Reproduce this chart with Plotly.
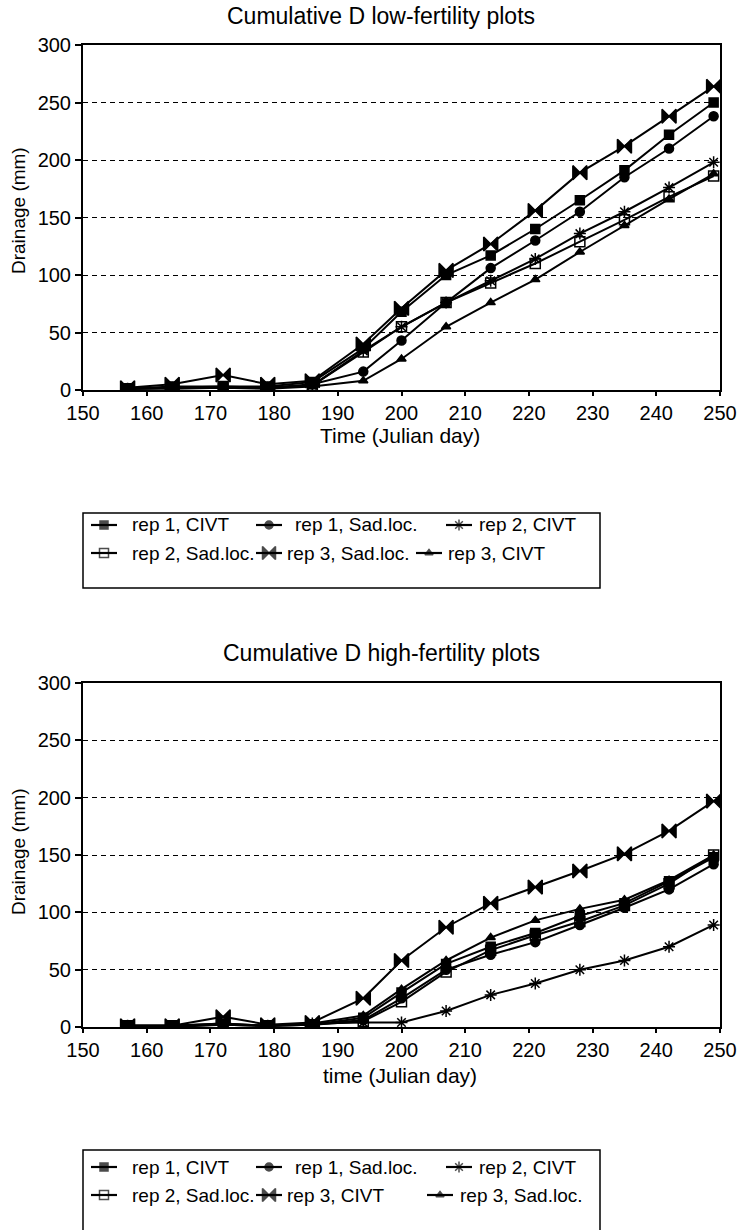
import plotly.graph_objects as go

# ---------------- data ----------------
days = [157, 164, 172, 179, 186, 194, 200, 207, 214, 221, 228, 235, 242, 249]

# Low-fertility plots
low_rep1_civt = [1, 3, 3, 3, 7, 36, 68, 100, 117, 140, 165, 191, 222, 250]
low_rep1_sad = [1, 2, 2, 2, 5, 16, 43, 76, 106, 130, 155, 185, 210, 238]
low_rep2_civt = [1, 2, 2, 2, 4, 34, 55, 76, 95, 114, 136, 155, 176, 198]
low_rep2_sad = [1, 2, 3, 2, 4, 33, 55, 76, 93, 110, 129, 148, 168, 186]
low_rep3_sad = [2, 5, 13, 5, 8, 40, 71, 104, 127, 156, 189, 212, 238, 264]
low_rep3_civt = [1, 1, 2, 1, 3, 8, 27, 55, 76, 96, 120, 143, 166, 188]

# High-fertility plots
high_rep1_civt = [1, 1, 3, 1, 2, 8, 30, 55, 70, 82, 97, 108, 127, 148]
high_rep1_sad = [1, 1, 2, 1, 2, 6, 25, 50, 63, 74, 89, 104, 120, 142]
high_rep2_civt = [1, 0, 2, 1, 3, 4, 4, 14, 28, 38, 50, 58, 70, 89]
high_rep2_sad = [1, 1, 2, 1, 2, 5, 22, 48, 67, 80, 92, 106, 125, 150]
high_rep3_civt = [1, 1, 9, 2, 4, 25, 58, 87, 108, 122, 136, 151, 171, 197]
high_rep3_sad = [1, 1, 3, 1, 3, 10, 33, 58, 78, 93, 103, 111, 128, 150]

low_names = ["rep 1, CIVT", "rep 1, Sad.loc.", "rep 2, CIVT",
             "rep 2, Sad.loc.", "rep 3, Sad.loc.", "rep 3, CIVT"]
high_names = ["rep 1, CIVT", "rep 1, Sad.loc.", "rep 2, CIVT",
              "rep 2, Sad.loc.", "rep 3, CIVT", "rep 3, Sad.loc."]

y_ticks = [0, 50, 100, 150, 200, 250, 300]
x_ticks = [150, 160, 170, 180, 190, 200, 210, 220, 230, 240, 250]

# ---------------- styles ----------------
FONT = "Liberation Sans, Arial, sans-serif"
W, H = 739, 1230

styles = {
    "rep1_civt": dict(symbol="square", size=9),
    "rep1_sad": dict(symbol="circle", size=9),
    "rep2_civt": dict(symbol="asterisk-open", size=10),
    "rep2_sad": dict(symbol="square-open", size=10),
    "rep3_bow": dict(symbol="bowtie", size=14),
    "rep3_tri": dict(symbol="triangle-up", size=8),
}
low_styles = ["rep1_civt", "rep1_sad", "rep2_civt", "rep2_sad", "rep3_bow", "rep3_tri"]
high_styles = ["rep1_civt", "rep1_sad", "rep2_civt", "rep2_sad", "rep3_bow", "rep3_tri"]

fig = go.Figure()


def marker_of(style, size=None):
    st = styles[style]
    return dict(symbol=st["symbol"], size=st["size"] if size is None else size,
                color="black", line=dict(color="black", width=1.5))


def add(x, y, name, style, xa, ya):
    fig.add_trace(go.Scatter(
        x=x, y=y, name=name, mode="lines+markers",
        line=dict(color="black", width=2),
        marker=marker_of(style),
        xaxis=xa, yaxis=ya, showlegend=False,
    ))


low_series = [low_rep1_civt, low_rep1_sad, low_rep2_civt, low_rep2_sad, low_rep3_sad, low_rep3_civt]
high_series = [high_rep1_civt, high_rep1_sad, high_rep2_civt, high_rep2_sad, high_rep3_civt, high_rep3_sad]

for vals, name, st in zip(low_series, low_names, low_styles):
    add(days, vals, name, st, "x", "y")
for vals, name, st in zip(high_series, high_names, high_styles):
    add(days, vals, name, st, "x2", "y2")


def py(y):
    return 1 - y / H


def px_(x):
    return x / W


# ---------------- hand-made legend boxes (pixel layout on an overlay axis) ----------------
# (sample centre x, text x, row index) for each of the 6 entries
legend_low_layout = [(104, 130, 0), (269, 293, 0), (459, 477, 0),
                     (104, 130, 1), (269, 285, 1), (429, 446, 1)]
legend_high_layout = [(104, 130, 0), (269, 293, 0), (459, 477, 0),
                      (104, 130, 1), (269, 285, 1), (440, 458, 1)]
low_rows = [525, 553]
high_rows = [1167, 1195]

annotations = []


def build_legend(names, stys, lay, rows):
    for name, st, (cx, tx, r) in zip(names, stys, lay):
        ry = rows[r]
        msize = max(styles[st]["size"] - 1, 7)
        fig.add_trace(go.Scatter(
            x=[cx - 13, cx, cx + 13], y=[ry, ry, ry], mode="lines+markers",
            line=dict(color="black", width=2.2),
            marker=dict(marker_of(st), size=[0, msize, 0]),
            xaxis="x3", yaxis="y3", showlegend=False, hoverinfo="skip",
        ))
        annotations.append(dict(text=name, x=px_(tx), y=py(ry), xref="paper", yref="paper",
                                showarrow=False, xanchor="left", yanchor="middle",
                                font=dict(family=FONT, size=19, color="black")))


build_legend(low_names, low_styles, legend_low_layout, low_rows)
build_legend(high_names, high_styles, legend_high_layout, high_rows)

shapes = [
    dict(type="rect", xref="paper", yref="paper", x0=px_(83), x1=px_(600),
         y0=py(588), y1=py(513), line=dict(color="black", width=1.5)),
    dict(type="rect", xref="paper", yref="paper", x0=px_(83), x1=px_(600),
         y0=py(1245), y1=py(1150), line=dict(color="black", width=1.5)),
]

xl, xr = 83, 720
xdom = [px_(xl), px_(xr)]

axis_common = dict(
    showline=True, linecolor="black", linewidth=2, mirror=True,
    ticks="outside", ticklen=6, tickcolor="black", tickwidth=1.5,
    zeroline=False, automargin=False,
    tickfont=dict(family=FONT, size=20, color="black"),
)

xaxis_base = dict(axis_common, range=[150, 250], tickvals=x_ticks, showgrid=False,
                  ticklen=4)
yaxis_base = dict(axis_common, range=[0, 300], tickvals=y_ticks,
                  showgrid=True, gridcolor="black", gridwidth=1.2, griddash="5px,4px")


def ann(text, x, y, size, angle=0):
    return dict(text=text, x=px_(x), y=py(y), xref="paper", yref="paper",
                showarrow=False, xanchor="center", yanchor="middle",
                textangle=angle, font=dict(family=FONT, size=size, color="black"))


annotations += [
    ann("Cumulative D low-fertility plots", 381, 16, 23),
    ann("Time (Julian day)", 400, 435, 21),
    ann("Drainage (mm)", 19, 211, 19, -90),
    ann("Cumulative D high-fertility plots", 381, 653, 23),
    ann("time (Julian day)", 400, 1075, 21),
    ann("Drainage (mm)", 19, 852, 19, -90),
]

fig.update_layout(
    width=W, height=H,
    margin=dict(l=0, r=0, t=0, b=0),
    paper_bgcolor="white", plot_bgcolor="rgba(0,0,0,0)",
    font=dict(family=FONT, size=19, color="black"),
    xaxis=dict(xaxis_base, domain=xdom, anchor="y"),
    yaxis=dict(yaxis_base, domain=[py(390), py(45)], anchor="x"),
    xaxis2=dict(xaxis_base, domain=xdom, anchor="y2"),
    yaxis2=dict(yaxis_base, domain=[py(1027), py(683)], anchor="x2"),
    xaxis3=dict(domain=[0, 1], range=[0, W], visible=False, anchor="y3", fixedrange=True),
    yaxis3=dict(domain=[0, 1], range=[H, 0], visible=False, anchor="x3", fixedrange=True),
    showlegend=False,
    shapes=shapes,
    annotations=annotations,
)

fig.write_html(
    "out.html",
    config={"displayModeBar": False},
    post_script="document.body.style.margin='0';document.body.style.padding='0';",
)
